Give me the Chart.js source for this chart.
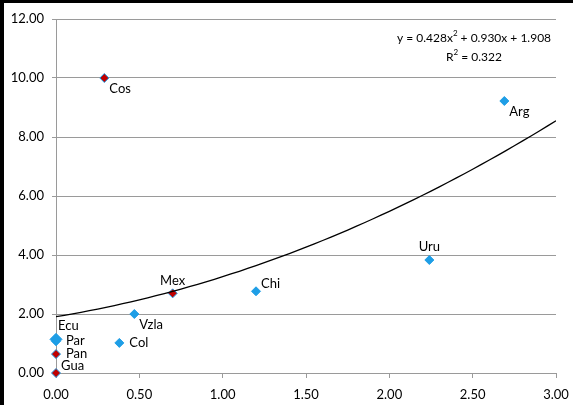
<!DOCTYPE html>
<html>
<head>
<meta charset="utf-8">
<script src="https://cdn.jsdelivr.net/npm/chart.js@4/dist/chart.umd.min.js"></script>
<style>
  html, body { margin: 0; padding: 0; background: #fff; }
  #wrap { width: 573px; height: 405px; }
  canvas { display: block; }
</style>
</head>
<body>
<div id="wrap"><canvas id="chart" width="573" height="405"></canvas></div>
<script>
// country points (x, y)
const countries = ['Cos', 'Arg', 'Uru', 'Chi', 'Mex', 'Vzla', 'Col', 'Ecu', 'Par', 'Pan', 'Gua'];
const xVals = [0.29, 2.69, 2.24, 1.20, 0.70, 0.47, 0.38, 0.00, 0.00, 0.00, 0.00];
const yVals = [10.00, 9.22, 3.83, 2.77, 2.70, 2.00, 1.02, 1.14, 1.08, 0.64, 0.00];
const redPoint = [true, false, false, false, true, false, false, false, false, true, true];

// polynomial trendline as printed on the chart
const trendCoef = [1.908, 0.930, 0.428];   // c0 + c1*x + c2*x^2
const trendText = ['y = 0.428x', '2', ' + 0.930x + 1.908'];
const r2Text = '0.322';

const xTicks = [0, 0.5, 1, 1.5, 2, 2.5, 3];
const yTicks = [0, 2, 4, 6, 8, 10, 12];

// where each label sits relative to its marker
const labelPos = ['belowRight', 'belowRight', 'above', 'aboveRight', 'above', 'belowRight', 'right', 'aboveLeft', 'right', 'right', 'aboveRight'];

const BLUE = '#1E9EE6';
const RED = '#C00000';
const GRID = '#9A9A9A';
const FONT = 'Lato, Carlito, "Open Sans", sans-serif';

const points = xVals.map((x, i) => ({ x, y: yVals[i] }));
const trendPts = [];
for (let x = 0; x <= 3.0001; x += 0.05) {
  trendPts.push({ x, y: trendCoef[0] + trendCoef[1] * x + trendCoef[2] * x * x });
}

// thick black frame on the left and top edges
const framePlugin = {
  id: 'frame',
  afterDraw(chart) {
    const c = chart.ctx;
    c.save();
    c.fillStyle = '#000000';
    c.fillRect(0, 0, 4, 405);
    c.fillRect(0, 0, 573, 3);
    c.restore();
  }
};

const labelPlugin = {
  id: 'ptLabels',
  afterDatasetsDraw(chart) {
    const c = chart.ctx;
    const meta = chart.getDatasetMeta(1);
    c.save();
    c.font = '13px ' + FONT;
    c.fillStyle = '#000';
    meta.data.forEach((pt, i) => {
      const pos = labelPos[i];
      let tx = pt.x, ty = pt.y;
      c.textAlign = 'left';
      c.textBaseline = 'middle';
      if (pos === 'right') { tx += 10; }
      else if (pos === 'belowRight') { tx += 5; ty += 11; }
      else if (pos === 'aboveRight') { tx += 5; ty -= 7; }
      else if (pos === 'aboveLeft') { tx += 2; ty -= 14; }
      else if (pos === 'above') { c.textAlign = 'center'; ty -= 13; }
      c.fillText(countries[i], tx, ty);
    });

    // trendline equation
    const cx = 474;
    c.font = '12px ' + FONT;
    const w0 = c.measureText(trendText[0]).width;
    c.font = '8px ' + FONT;
    const w1 = c.measureText(trendText[1]).width;
    c.font = '12px ' + FONT;
    const w2 = c.measureText(trendText[2]).width;
    let sx = cx - (w0 + w1 + w2) / 2;
    c.textAlign = 'left';
    c.textBaseline = 'alphabetic';
    c.fillText(trendText[0], sx, 42);
    c.font = '8px ' + FONT;
    c.fillText(trendText[1], sx + w0, 36);
    c.font = '12px ' + FONT;
    c.fillText(trendText[2], sx + w0 + w1, 42);

    const a = 'R', b = '2', d = ' = ' + r2Text;
    const wa = c.measureText(a).width, wd = c.measureText(d).width;
    c.font = '8px ' + FONT;
    const wb = c.measureText(b).width;
    sx = cx - (wa + wb + wd) / 2;
    c.font = '12px ' + FONT;
    c.fillText(a, sx, 61);
    c.font = '8px ' + FONT;
    c.fillText(b, sx + wa, 55);
    c.font = '12px ' + FONT;
    c.fillText(d, sx + wa + wb, 61);
    c.restore();
  }
};

new Chart(document.getElementById('chart'), {
  type: 'scatter',
  data: {
    datasets: [
      {
        data: trendPts,
        showLine: true,
        borderColor: '#000',
        borderWidth: 1.3,
        pointRadius: 0,
        tension: 0
      },
      {
        data: points,
        clip: false,
        pointStyle: 'rectRot',
        pointRadius: points.map((p, i) => (i === 7 ? 6 : 4.5)),
        pointBackgroundColor: redPoint.map(r => r ? RED : BLUE),
        pointBorderColor: BLUE,
        pointBorderWidth: 1
      }
    ]
  },
  options: {
    responsive: false,
    animation: false,
    layout: { padding: { left: 4, top: 19, right: 17, bottom: 0 } },
    plugins: { legend: { display: false }, tooltip: { enabled: false } },
    scales: {
      x: {
        type: 'linear',
        min: 0, max: 3,
        afterBuildTicks(scale) { scale.ticks = xTicks.map(v => ({ value: v })); },
        afterFit(scale) { scale.height = 32; scale.paddingRight = 0; scale.paddingLeft = 0; },
        grid: { drawOnChartArea: false, drawTicks: true, tickLength: 5, color: GRID },
        border: { color: GRID, width: 1 },
        ticks: {
          color: '#000', padding: 9,
          font: { family: FONT, size: 13 },
          maxRotation: 0,
          callback: v => Number(v).toFixed(2)
        }
      },
      y: {
        type: 'linear',
        min: 0, max: 12,
        afterBuildTicks(scale) { scale.ticks = yTicks.map(v => ({ value: v })); },
        afterFit(scale) { scale.width = 52; },
        grid: { drawOnChartArea: true, drawTicks: true, tickLength: 4, color: GRID },
        border: { color: GRID, width: 1 },
        ticks: {
          color: '#000', padding: 8,
          font: { family: FONT, size: 13 },
          callback: v => Number(v).toFixed(2)
        }
      }
    }
  },
  plugins: [labelPlugin, framePlugin]
});
</script>
</body>
</html>
